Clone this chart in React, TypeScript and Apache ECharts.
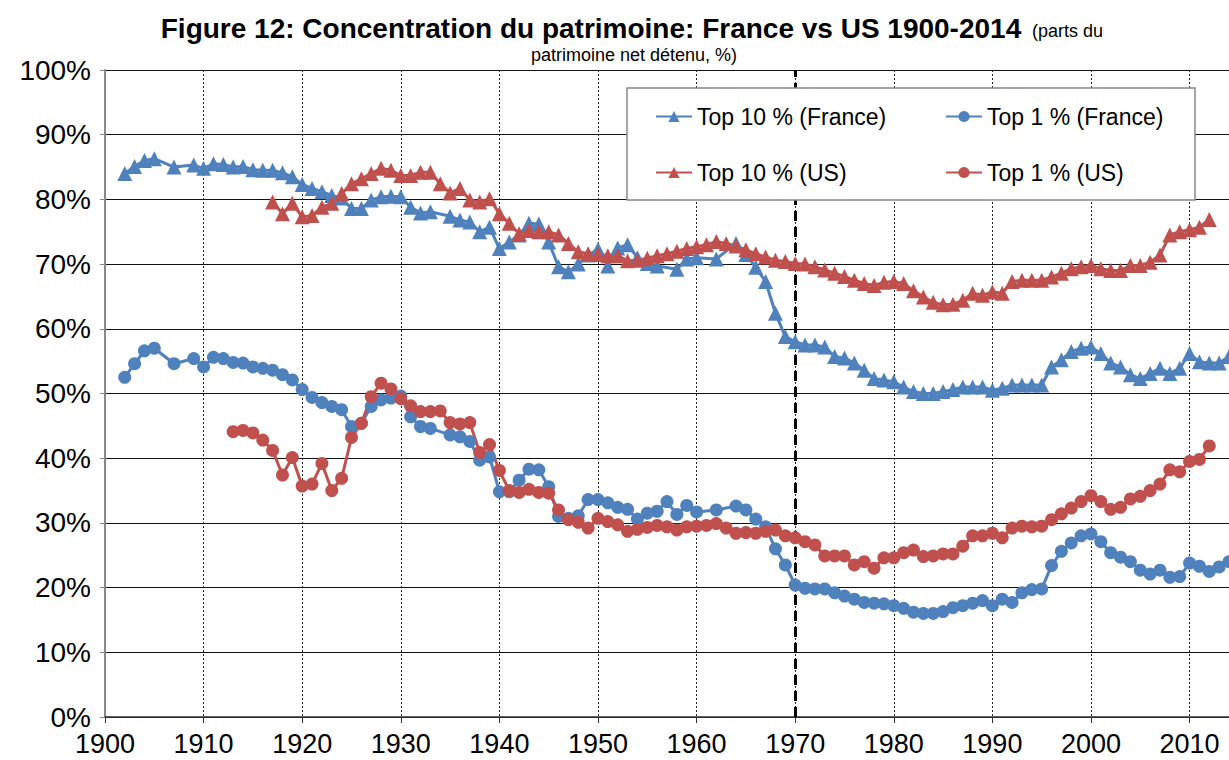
import React, { useEffect, useRef } from "react";
import * as echarts from "echarts";

const BLUE = "#4F81BD";
const RED = "#C0504D";

const xTicks = [1900, 1910, 1920, 1930, 1940, 1950, 1960, 1970, 1980, 1990, 2000, 2010];

const frTop10Years = [1902, 1903, 1904, 1905, 1907, 1909, 1910, 1911, 1912, 1913, 1914, 1915, 1916, 1917, 1918, 1919, 1920, 1921, 1922, 1923, 1924, 1925, 1926, 1927, 1928, 1929, 1930, 1931, 1932, 1933, 1935, 1936, 1937, 1938, 1939, 1940, 1941, 1942, 1943, 1944, 1945, 1946, 1947, 1948, 1949, 1950, 1951, 1952, 1953, 1954, 1955, 1956, 1958, 1959, 1960, 1962, 1964, 1965, 1966, 1967, 1968, 1969, 1970, 1971, 1972, 1973, 1974, 1975, 1976, 1977, 1978, 1979, 1980, 1981, 1982, 1983, 1984, 1985, 1986, 1987, 1988, 1989, 1990, 1991, 1992, 1993, 1994, 1995, 1996, 1997, 1998, 1999, 2000, 2001, 2002, 2003, 2004, 2005, 2006, 2007, 2008, 2009, 2010, 2011, 2012, 2013, 2014];
const frTop10Values = [84.0, 85.1, 86.0, 86.3, 85.0, 85.3, 84.8, 85.5, 85.4, 85.0, 85.1, 84.6, 84.5, 84.5, 84.1, 83.5, 82.3, 81.7, 81.2, 80.6, 80.2, 78.6, 78.6, 79.9, 80.4, 80.5, 80.4, 78.8, 77.9, 78.1, 77.4, 76.8, 76.5, 75.0, 75.7, 72.4, 73.4, 74.5, 76.3, 76.2, 73.4, 69.6, 68.8, 70.0, 71.4, 72.3, 69.7, 72.5, 73.0, 71.0, 70.1, 69.7, 69.2, 70.8, 71.0, 70.8, 73.2, 71.5, 69.5, 67.3, 62.4, 58.8, 58.0, 57.5, 57.5, 57.2, 55.7, 55.5, 54.7, 53.6, 52.3, 52.1, 51.8, 51.0, 50.3, 50.0, 50.0, 50.3, 50.6, 51.0, 51.0, 51.0, 50.5, 50.8, 51.3, 51.3, 51.3, 51.3, 54.1, 55.2, 56.5, 57.0, 57.2, 56.2, 54.7, 54.1, 52.9, 52.3, 53.1, 53.9, 53.1, 53.9, 56.2, 54.9, 54.7, 54.7, 55.7];

const frTop1Years = [1902, 1903, 1904, 1905, 1907, 1909, 1910, 1911, 1912, 1913, 1914, 1915, 1916, 1917, 1918, 1919, 1920, 1921, 1922, 1923, 1924, 1925, 1926, 1927, 1928, 1929, 1930, 1931, 1932, 1933, 1935, 1936, 1937, 1938, 1939, 1940, 1941, 1942, 1943, 1944, 1945, 1946, 1947, 1948, 1949, 1950, 1951, 1952, 1953, 1954, 1955, 1956, 1957, 1958, 1959, 1960, 1962, 1964, 1965, 1966, 1967, 1968, 1969, 1970, 1971, 1972, 1973, 1974, 1975, 1976, 1977, 1978, 1979, 1980, 1981, 1982, 1983, 1984, 1985, 1986, 1987, 1988, 1989, 1990, 1991, 1992, 1993, 1994, 1995, 1996, 1997, 1998, 1999, 2000, 2001, 2002, 2003, 2004, 2005, 2006, 2007, 2008, 2009, 2010, 2011, 2012, 2013, 2014];
const frTop1Values = [52.5, 54.6, 56.6, 57.0, 54.6, 55.4, 54.1, 55.6, 55.4, 54.8, 54.7, 54.1, 53.9, 53.6, 52.9, 52.1, 50.6, 49.4, 48.6, 48.0, 47.5, 44.9, 45.4, 48.0, 49.0, 49.3, 49.6, 46.4, 44.9, 44.6, 43.6, 43.3, 42.6, 39.7, 40.2, 34.8, 34.8, 36.6, 38.3, 38.2, 35.6, 31.0, 30.7, 31.1, 33.6, 33.6, 33.1, 32.4, 32.1, 30.6, 31.5, 31.8, 33.3, 31.3, 32.7, 31.7, 32.0, 32.6, 32.0, 30.6, 29.4, 26.0, 23.5, 20.4, 19.9, 19.8, 19.8, 19.2, 18.7, 18.2, 17.7, 17.6, 17.5, 17.2, 16.8, 16.2, 16.0, 16.0, 16.3, 16.9, 17.2, 17.6, 18.0, 17.2, 18.2, 17.7, 19.2, 19.7, 19.8, 23.4, 25.6, 26.9, 28.0, 28.3, 27.1, 25.4, 24.7, 24.0, 22.7, 22.1, 22.7, 21.6, 21.7, 23.8, 23.3, 22.5, 23.2, 24.0];

const usTop10Years = [1917, 1918, 1919, 1920, 1921, 1922, 1923, 1924, 1925, 1926, 1927, 1928, 1929, 1930, 1931, 1932, 1933, 1934, 1935, 1936, 1937, 1938, 1939, 1940, 1941, 1942, 1943, 1944, 1945, 1946, 1947, 1948, 1949, 1950, 1951, 1952, 1953, 1954, 1955, 1956, 1957, 1958, 1959, 1960, 1961, 1962, 1963, 1964, 1965, 1966, 1967, 1968, 1969, 1970, 1971, 1972, 1973, 1974, 1975, 1976, 1977, 1978, 1979, 1980, 1981, 1982, 1983, 1984, 1985, 1986, 1987, 1988, 1989, 1990, 1991, 1992, 1993, 1994, 1995, 1996, 1997, 1998, 1999, 2000, 2001, 2002, 2003, 2004, 2005, 2006, 2007, 2008, 2009, 2010, 2011, 2012];
const usTop10Values = [79.6, 77.8, 79.4, 77.3, 77.5, 78.8, 79.4, 80.9, 82.4, 83.2, 84.0, 84.8, 84.5, 83.7, 83.7, 84.2, 84.2, 82.4, 81.0, 81.7, 79.9, 79.6, 80.1, 77.8, 76.3, 74.7, 75.2, 75.0, 75.0, 74.5, 73.2, 71.9, 71.6, 71.5, 71.3, 71.3, 70.5, 70.6, 70.9, 71.3, 71.6, 72.0, 72.4, 72.7, 73.0, 73.5, 73.2, 72.8, 72.2, 71.6, 71.1, 70.6, 70.4, 70.1, 70.0, 69.6, 69.1, 68.6, 68.1, 67.5, 67.0, 66.7, 67.2, 67.3, 67.0, 65.9, 64.9, 64.1, 63.7, 63.8, 64.4, 65.5, 65.2, 65.7, 65.5, 67.3, 67.5, 67.5, 67.5, 68.0, 68.6, 69.3, 69.6, 69.8, 69.3, 69.0, 69.0, 69.8, 69.8, 70.3, 71.4, 74.5, 75.0, 75.3, 75.7, 76.9];

const usTop1Years = [1913, 1914, 1915, 1916, 1917, 1918, 1919, 1920, 1921, 1922, 1923, 1924, 1925, 1926, 1927, 1928, 1929, 1930, 1931, 1932, 1933, 1934, 1935, 1936, 1937, 1938, 1939, 1940, 1941, 1942, 1943, 1944, 1945, 1946, 1947, 1948, 1949, 1950, 1951, 1952, 1953, 1954, 1955, 1956, 1957, 1958, 1959, 1960, 1961, 1962, 1963, 1964, 1965, 1966, 1967, 1968, 1969, 1970, 1971, 1972, 1973, 1974, 1975, 1976, 1977, 1978, 1979, 1980, 1981, 1982, 1983, 1984, 1985, 1986, 1987, 1988, 1989, 1990, 1991, 1992, 1993, 1994, 1995, 1996, 1997, 1998, 1999, 2000, 2001, 2002, 2003, 2004, 2005, 2006, 2007, 2008, 2009, 2010, 2011, 2012];
const usTop1Values = [44.1, 44.3, 43.9, 42.8, 41.2, 37.4, 40.1, 35.7, 36.0, 39.2, 35.0, 36.9, 43.2, 45.4, 49.5, 51.6, 50.7, 49.2, 48.1, 47.2, 47.2, 47.3, 45.5, 45.3, 45.5, 40.9, 42.1, 38.1, 35.0, 34.7, 35.2, 34.7, 34.6, 32.0, 30.5, 30.1, 29.2, 30.7, 30.2, 29.7, 28.7, 29.0, 29.3, 29.6, 29.4, 28.9, 29.4, 29.5, 29.6, 29.9, 29.2, 28.4, 28.5, 28.4, 28.7, 28.9, 28.0, 27.7, 27.1, 26.6, 24.9, 24.9, 24.9, 23.5, 24.0, 23.0, 24.6, 24.6, 25.4, 25.8, 24.8, 24.9, 25.2, 25.2, 26.4, 28.0, 28.0, 28.4, 27.7, 29.2, 29.5, 29.4, 29.5, 30.5, 31.4, 32.3, 33.3, 34.2, 33.3, 32.1, 32.4, 33.7, 34.1, 35.0, 36.0, 38.2, 37.9, 39.5, 39.8, 41.9];

const seriesNames = ["Top 10 % (France)", "Top 1 % (France)", "Top 10 % (US)", "Top 1 % (US)"];
const markerYear = 1970;

const titleMain = "Figure 12: Concentration du patrimoine: France vs US 1900-2014";
const titleSide = "(parts du";
const titleSub = "patrimoine net détenu, %)";

const FONT = "'Liberation Sans', Arial, sans-serif";

function zip(years: number[], vals: number[]) {
  return years.map((y, i) => [y, vals[i]]);
}

export default function App() {
  const ref = useRef<HTMLDivElement>(null);
  useEffect(() => {
    if (!ref.current) return;
    const chart = echarts.init(ref.current, undefined, { renderer: "svg" });
    const mk = (name: string, color: string, symbol: string, size: number, years: number[], vals: number[], extra: any = {}) => ({
      name,
      type: "line",
      data: zip(years, vals),
      symbol,
      symbolSize: size,
      showSymbol: true,
      lineStyle: { color, width: 3 },
      itemStyle: { color, borderColor: color, borderWidth: 0 },
      emphasis: { disabled: true },
      ...extra,
    });
    const legendPos = [
      { left: 655, top: 105 },
      { left: 945, top: 105 },
      { left: 655, top: 161 },
      { left: 945, top: 161 },
    ];
    chart.setOption({
      animation: false,
      textStyle: { fontFamily: FONT },
      grid: { left: 105, right: 0, top: 70, bottom: 43, containLabel: false },
      legend: seriesNames.map((n, i) => ({
        data: [n],
        ...legendPos[i],
        orient: "horizontal",
        padding: 0,
        itemWidth: 36,
        itemHeight: 14,
        itemGap: 0,
        z: 30,
        textStyle: { fontSize: 23, color: "#000", fontFamily: FONT },
        selectedMode: false,
      })),
      xAxis: {
        type: "value",
        min: 1900,
        max: 2014,
        interval: 10,
        axisLine: { show: true, onZero: false, lineStyle: { color: "#333", width: 1.5 } },
        axisTick: { show: true, length: 6, lineStyle: { color: "#333" } },
        axisLabel: {
          fontSize: 27,
          color: "#000",
          margin: 13,
          showMaxLabel: false,
          formatter: (v: number) => (v % 10 === 0 ? String(v) : ""),
        },
        splitLine: { show: true, lineStyle: { color: "#222", type: [2, 2], width: 1 } },
      },
      yAxis: {
        type: "value",
        min: 0,
        max: 100,
        interval: 10,
        axisLine: { show: true, lineStyle: { color: "#888", width: 2 } },
        axisTick: { show: true, length: 5, lineStyle: { color: "#888" } },
        axisLabel: { fontSize: 28, color: "#000", margin: 14, formatter: "{value}%" },
        splitLine: { show: true, lineStyle: { color: "#111", width: 1 } },
      },
      graphic: [
        {
          type: "rect",
          z: 20,
          shape: { x: 627, y: 88, width: 568, height: 112 },
          style: { fill: "#fff", stroke: "#888", lineWidth: 1.5 },
        },
        {
          type: "text",
          x: 591,
          y: 28,
          z: 30,
          style: { text: titleMain, font: `bold 28px ${FONT}`, fill: "#000", textAlign: "center", textVerticalAlign: "middle" },
        },
        {
          type: "text",
          x: 1032,
          y: 31,
          z: 30,
          style: { text: titleSide, font: `18px ${FONT}`, fill: "#000", textAlign: "left", textVerticalAlign: "middle" },
        },
        {
          type: "text",
          x: 634,
          y: 55,
          z: 30,
          style: { text: titleSub, font: `18px ${FONT}`, fill: "#000", textAlign: "center", textVerticalAlign: "middle" },
        },
      ],
      series: [
        mk(seriesNames[0], BLUE, "triangle", 15, frTop10Years, frTop10Values, {
          markLine: {
            silent: true,
            z: 3,
            symbol: ["none", "none"],
            label: { show: false },
            lineStyle: { color: "#000", type: [10, 6], width: 3 },
            data: [{ xAxis: markerYear }],
          },
        }),
        mk(seriesNames[1], BLUE, "circle", 13, frTop1Years, frTop1Values),
        mk(seriesNames[2], RED, "triangle", 15, usTop10Years, usTop10Values),
        mk(seriesNames[3], RED, "circle", 13, usTop1Years, usTop1Values),
      ],
    });
    return () => chart.dispose();
  }, []);
  return <div ref={ref} style={{ position: "fixed", left: 0, top: 0, width: 1229, height: 760, background: "#fff" }} />;
}
